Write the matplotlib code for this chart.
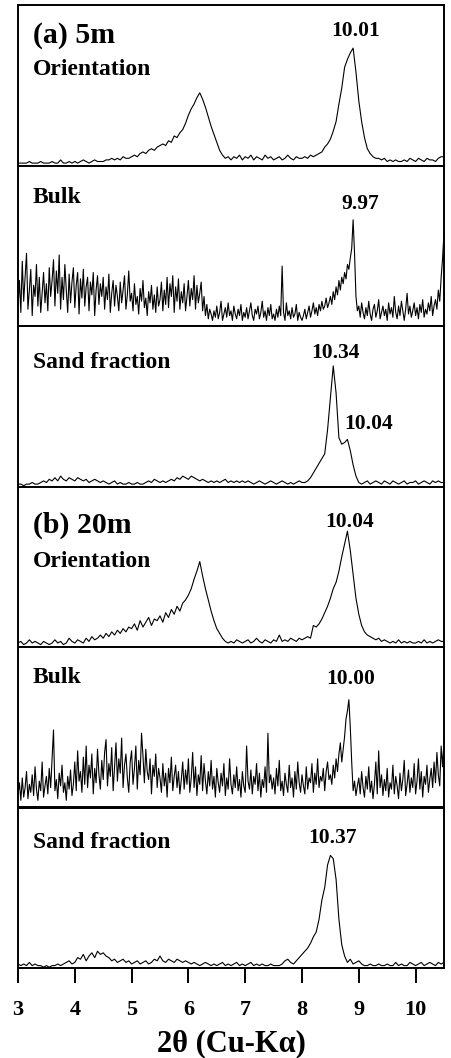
import numpy as np
import matplotlib.pyplot as plt

# --- DATA (intensity as % of panel height) ---
two_theta_min, two_theta_max = 3.0, 10.5
tick_values = [3, 4, 5, 6, 7, 8, 9, 10]

# (a) 5m, oriented, step 0.05
a_orient = [
    1, 1, 1, 1, 2, 1, 1, 1, 2, 1,
    1, 1, 2, 1, 1, 3, 1, 1, 2, 1,
    2, 1, 2, 3, 2, 1, 2, 3, 2, 2,
    2, 3, 3, 4, 3, 4, 3, 5, 4, 4,
    5, 6, 5, 7, 8, 7, 9, 10, 9, 11,
    12, 13, 12, 15, 14, 18, 17, 20, 22, 26,
    31, 35, 38, 42, 45, 41, 36, 30, 24, 19,
    14, 9, 6, 4, 5, 3, 5, 4, 6, 3,
    5, 4, 6, 3, 5, 4, 3, 6, 4, 5,
    3, 4, 5, 3, 4, 6, 4, 3, 5, 4,
    4, 5, 4, 6, 5, 6, 7, 8, 11, 13,
    16, 21, 27, 38, 48, 61, 66, 70, 73, 58,
    40, 27, 17, 10, 7, 5, 4, 4, 3, 4,
    2, 3, 2, 3, 2, 2, 3, 2, 4, 3,
    2, 4, 3, 2, 4, 3, 3, 2, 4, 5,
    5,
]

# (a) 5m, bulk, step 0.025
a_bulk = [
    12, 28, 8, 40, 15, 30, 45, 10, 22, 35, 6, 25, 18, 38, 12, 30, 8, 20, 33, 14,
    26, 9, 36, 18, 28, 41, 12, 34, 20, 44, 10, 30, 16, 38, 22, 8, 32, 14, 27, 36,
    11, 25, 33, 7, 29, 17, 35, 12, 24, 30, 9, 27, 19, 33, 6, 22, 31, 13, 26, 18,
    30, 10, 24, 16, 32, 8, 20, 28, 12, 25, 18, 9, 27, 14, 22, 31, 10, 19, 34, 15,
    20, 9, 26, 13, 18, 7, 23, 15, 28, 11, 17, 6, 21, 14, 25, 10, 19, 8, 24, 12,
    16, 27, 9, 22, 13, 30, 11, 26, 18, 31, 8, 24, 15, 29, 10, 21, 14, 26, 9, 18,
    28, 12, 23, 16, 31, 10, 25, 14, 20, 27, 9, 18, 6, 13, 4, 10, 7, 3, 9, 5,
    12, 4, 8, 15, 3, 7, 11, 5, 14, 6, 9, 3, 12, 7, 4, 10, 6, 13, 3, 8,
    5, 11, 4, 9, 14, 6, 3, 10, 7, 12, 4, 8, 15, 5, 9, 3, 11, 6, 13, 4,
    7, 3, 10, 5, 12, 6, 37, 8, 3, 14, 6, 9, 4, 11, 5, 7, 13, 3, 8, 5,
    3, 6, 10, 4, 8, 12, 5, 9, 14, 7, 11, 6, 13, 9, 15, 10, 12, 17, 11, 14,
    18, 13, 21, 16, 24, 19, 28, 22, 30, 26, 33, 29, 38, 35, 42, 48, 66, 45, 18, 9,
    12, 5, 14, 8, 4, 11, 6, 15, 7, 3, 10, 13, 5, 9, 16, 4, 8, 12, 6, 10,
    3, 14, 7, 11, 5, 18, 8, 4, 12, 6, 15, 9, 3, 10, 20, 7, 12, 5, 9, 14,
    6, 11, 4, 13, 8, 16, 5, 10, 7, 14, 9, 18, 6, 12, 16, 10, 22, 15, 30, 42,
    58,
]

# (a) 5m, sand fraction, step 0.05
a_sand = [
    1, 1, 0, 1, 1, 2, 1, 1, 2, 3,
    2, 4, 3, 5, 3, 6, 4, 3, 5, 4,
    3, 5, 4, 3, 4, 2, 3, 4, 3, 2,
    3, 2, 1, 2, 3, 1, 2, 1, 1, 2,
    1, 1, 2, 1, 1, 2, 3, 2, 4, 3,
    2, 3, 2, 3, 4, 3, 5, 4, 6, 5,
    4, 6, 5, 4, 3, 4, 3, 2, 3, 2,
    3, 2, 3, 4, 2, 3, 2, 3, 2, 3,
    2, 3, 2, 1, 2, 3, 2, 1, 2, 3,
    2, 1, 2, 3, 2, 1, 2, 1, 2, 3,
    2, 2, 3, 5, 8, 11, 14, 17, 20, 35,
    55, 75, 58, 30, 26, 27, 29, 22, 13, 6,
    2, 1, 2, 3, 1, 2, 3, 2, 1, 3,
    2, 1, 3, 2, 1, 2, 3, 1, 2, 2,
    3, 1, 2, 3, 2, 1, 3, 2, 3, 2,
    2,
]

# (b) 20m, oriented, step 0.05
b_orient = [
    2, 3, 1, 2, 4, 2, 3, 2, 1, 3,
    2, 1, 2, 4, 2, 3, 1, 2, 5, 3,
    2, 4, 3, 2, 5, 3, 6, 4, 5, 7,
    5, 8, 6, 9, 7, 10, 8, 11, 9, 12,
    11, 14, 10, 16, 12, 15, 18, 13, 17, 16,
    19, 15, 21, 18, 23, 20, 25, 22, 27, 29,
    32, 36, 42, 47, 53, 44, 36, 29, 22, 16,
    11, 8, 5, 3, 2, 3, 2, 4, 3, 2,
    3, 4, 2, 3, 5, 3, 2, 4, 3, 2,
    4, 3, 7, 3, 4, 3, 5, 4, 3, 5,
    4, 5, 6, 5, 13, 12, 14, 17, 21, 25,
    30, 36, 40, 47, 56, 64, 72, 60, 45, 30,
    20, 13, 9, 7, 6, 5, 4, 5, 3, 4,
    3, 2, 3, 2, 4, 2, 3, 2, 3, 2,
    2, 3, 2, 4, 2, 3, 2, 3, 4, 3,
    3,
]

# (b) 20m, bulk, step 0.025
b_bulk = [
    8, 15, 4, 18, 6, 12, 22, 5, 14, 9, 20, 7, 25, 11, 4, 16, 10, 28, 6, 13,
    19, 8, 24, 12, 30, 48, 10, 17, 5, 21, 13, 26, 9, 15, 4, 19, 11, 23, 7, 14,
    28, 10, 35, 16, 22, 9, 31, 14, 38, 12, 26, 18, 33, 8, 24, 15, 36, 20, 11, 29,
    17, 34, 42, 13, 27, 19, 37, 10, 25, 40, 16, 30, 21, 43, 12, 26, 33, 18, 9, 28,
    35, 14, 24, 38, 11, 29, 20, 46, 32, 15, 36, 22, 17, 30, 8, 26, 19, 33, 12, 24,
    18, 9, 27, 13, 21, 6, 24, 15, 31, 10, 19, 26, 12, 22, 8, 17, 28, 11, 23, 14,
    30, 9, 18, 34, 12, 25, 7, 20, 14, 32, 10, 27, 16, 8, 22, 13, 29, 11, 19, 6,
    24, 15, 9, 21, 13, 27, 7, 18, 11, 30, 14, 8, 20, 12, 25, 10, 17, 6, 22, 13,
    9, 38, 16, 11, 23, 8, 19, 14, 27, 10, 21, 6, 17, 12, 25, 9, 46, 15, 20, 11,
    18, 8, 24, 13, 29, 10, 16, 7, 21, 14, 9, 26, 12, 18, 6, 22, 11, 28, 15, 9,
    20, 13, 8, 25, 11, 18, 15, 27, 9, 21, 14, 30, 12, 19, 16, 24, 10, 22, 28, 17,
    20, 14, 26, 18, 30, 22, 33, 40, 28, 36, 44, 55, 60, 67, 50, 28, 10, 16, 7, 13,
    18, 8, 22, 12, 6, 19, 11, 25, 9, 16, 5, 14, 28, 8, 35, 12, 20, 7, 17, 10,
    24, 6, 15, 11, 26, 8, 19, 13, 5, 21, 10, 17, 29, 7, 14, 23, 9, 18, 12, 27,
    8, 16, 30, 11, 22, 6, 19, 14, 26, 9, 17, 24, 12, 28, 15, 34, 20, 13, 38, 25,
    42,
]

# (b) 20m, sand fraction, step 0.05
b_sand = [
    2, 1, 2, 1, 3, 1, 2, 1, 1, 0,
    1, 0, 1, 1, 2, 1, 2, 3, 4, 2,
    3, 6, 5, 8, 4, 7, 9, 6, 10, 8,
    9, 7, 6, 4, 5, 3, 4, 5, 3, 4,
    2, 3, 4, 2, 3, 4, 2, 3, 5, 4,
    7, 4, 3, 5, 4, 3, 5, 4, 3, 4,
    3, 2, 3, 2, 1, 2, 3, 2, 1, 2,
    1, 2, 3, 1, 2, 1, 2, 3, 1, 2,
    1, 2, 3, 1, 2, 1, 2, 1, 1, 2,
    1, 1, 1, 2, 4, 5, 3, 2, 4, 6,
    8, 10, 12, 15, 19, 22, 30, 42, 50, 64,
    70, 68, 55, 30, 14, 7, 3, 5, 2, 3,
    4, 2, 1, 1, 2, 1, 1, 2, 1, 1,
    2, 1, 1, 3, 1, 2, 1, 1, 3, 2,
    1, 2, 3, 1, 2, 3, 2, 1, 3, 2,
    3,
]

series = [a_orient, a_bulk, a_sand, b_orient, b_bulk, b_sand]
sample_labels = ["(a) 5m", None, None, "(b) 20m", None, None]
fraction_labels = ["Orientation", "Bulk", "Sand fraction",
                   "Orientation", "Bulk", "Sand fraction"]
# d-spacing labels: (text, 2theta position)
peak_labels = [
    [("10.01", 8.94)],
    [("9.97", 9.02)],
    [("10.34", 8.58), ("10.04", 9.17)],
    [("10.04", 8.83)],
    [("10.00", 8.86)],
    [("10.37", 8.54)],
]

# --- STYLE ---
plt.rcParams['font.family'] = ['Liberation Serif', 'DejaVu Serif']
plt.rcParams['font.weight'] = 'bold'

fig, axes = plt.subplots(6, 1, sharex=True, figsize=(4.52, 10.58), dpi=100)
fig.subplots_adjust(left=18 / 452, right=444 / 452, top=1 - 5 / 1058,
                    bottom=1 - 968 / 1058, hspace=0)

# label heights (axes fraction) for each panel
frac_y = [0.60, 0.80, 0.77, 0.53, 0.81, 0.78]
peak_y = [[0.84], [0.76], [0.83, 0.39], [0.78], [0.80], [0.81]]

for i, ax in enumerate(axes):
    y = np.array(series[i], dtype=float)
    x = np.linspace(two_theta_min, two_theta_max, len(y))
    ax.plot(x, y, color='black', lw=0.8)
    ax.set_xlim(two_theta_min, two_theta_max)
    ax.set_ylim(-0.5, 100)
    ax.set_yticks([])
    for sp in ax.spines.values():
        sp.set_linewidth(1.4)
    ax.tick_params(axis='x', which='both', bottom=False, top=False)

    if sample_labels[i]:
        ax.text(0.035, 0.81 if i == 0 else 0.76, sample_labels[i],
                transform=ax.transAxes, fontsize=21.5, fontweight='bold',
                ha='left', va='center')
    ax.text(0.035, frac_y[i], fraction_labels[i], transform=ax.transAxes,
            fontsize=17, fontweight='bold', ha='left', va='center')
    for (txt, pos), py in zip(peak_labels[i], peak_y[i]):
        ax.text(pos, py, txt, transform=ax.get_xaxis_transform(),
                fontsize=15.5, fontweight='bold', ha='center', va='center')

bottom_ax = axes[-1]
bottom_ax.set_xticks(tick_values)
bottom_ax.tick_params(axis='x', bottom=True, direction='out', length=11,
                      width=1.4, pad=12, labelsize=16)
for lab in bottom_ax.get_xticklabels():
    lab.set_fontweight('bold')
bottom_ax.set_xlabel("2\u03b8 (Cu-K\u03b1)", fontsize=22, fontweight='bold',
                     labelpad=7)

plt.savefig('out.png', dpi=100)
plt.close()
